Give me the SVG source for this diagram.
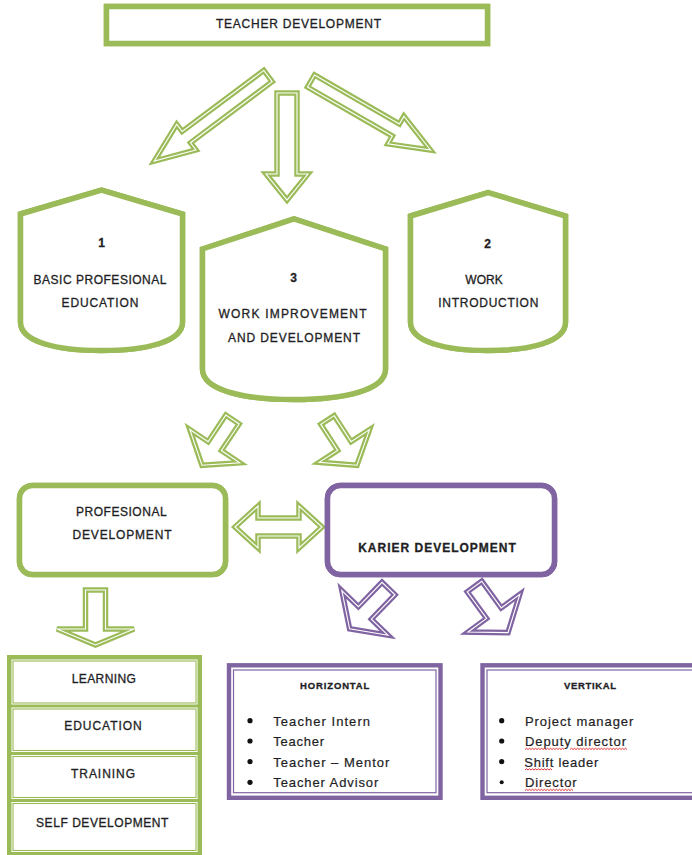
<svg xmlns="http://www.w3.org/2000/svg" width="692" height="855" viewBox="0 0 692 855">
  <style>
    .g2 { fill: #fff; stroke: #9bbb59; stroke-width: 5.5; stroke-linejoin: miter; }
    .p2 { fill: #fff; stroke: #8064a2; stroke-width: 5.5; stroke-linejoin: miter; }
    .seam { fill: none; stroke: #fff; stroke-width: 1.1; }
    .pthin { fill: none; stroke: #8064a2; stroke-width: 1.2; }
    .gthin { fill: none; stroke: #9bbb59; stroke-width: 1.1; }
    .t { font-family: "Liberation Sans", Arial, sans-serif; font-size: 12px; fill: #1e1e24; stroke: #1e1e24; stroke-width: 0.3; text-anchor: middle; }
    .b { font-weight: bold; }
    .hd { font-size: 9.5px; font-weight: bold; }
    .li { font-family: "Liberation Sans", Arial, sans-serif; font-size: 13px; fill: #1e1e24; stroke: #1e1e24; stroke-width: 0.2; }
    .dot { fill: #111; }
    .spell { fill: none; stroke: #e02020; stroke-width: 0.9; }
  </style>

  <!-- top node -->
  <g id="teacher-development">
    <rect class="g2" id="r-top" x="106.5" y="6.5" width="381" height="37"/>
    <use href="#r-top" class="seam"/>
    <text class="t" x="298.5" y="28" textLength="165" lengthAdjust="spacing">TEACHER  DEVELOPMENT</text>
  </g>

  <!-- block arrows -->
  <g id="connectors">
    <g class="g2">
      <polygon id="a-top-left" transform="translate(268 76) rotate(143.2)" points="0,-7 102,-7 102,-16 142,0 102,16 102,7 0,7"/>
      <polygon id="a-top-mid" transform="translate(287 93) rotate(90)" points="0,-10 81,-10 81,-21 107,0 81,21 81,10 0,10"/>
      <polygon id="a-top-right" transform="translate(311 81) rotate(30)" points="0,-7 98,-7 98,-16 138,0 98,16 98,7 0,7"/>
      <polygon id="a-mid-left" transform="translate(232.5 419.5) rotate(123.7)" points="0,-8 32,-8 32,-30 55,0 32,30 32,8 0,8"/>
      <polygon id="a-mid-right" transform="translate(327.5 420) rotate(57)" points="0,-8 31,-8 31,-30 54,0 31,30 31,8 0,8"/>
      <polygon id="a-both" points="235,527 258,506 258,518 299,518 299,506 322,527 299,548 299,536 258,536 258,548"/>
      <polygon id="a-down" points="85.5,590 105.5,590 105.5,629 134,629 95.5,645 57,629 85.5,629"/>
    </g>
    <g class="p2">
      <polygon id="a-k-left" transform="translate(388.5 588.5) rotate(134)" points="0,-9 34,-9 34,-32 56,0 34,32 34,9 0,9"/>
      <polygon id="a-k-right" transform="translate(474.5 586.5) rotate(54)" points="0,-9 33,-9 33,-32 57,0 33,32 33,9 0,9"/>
    </g>
    <use href="#a-top-left" class="seam"/>
    <use href="#a-top-mid" class="seam"/>
    <use href="#a-top-right" class="seam"/>
    <use href="#a-mid-left" class="seam"/>
    <use href="#a-mid-right" class="seam"/>
    <use href="#a-both" class="seam"/>
    <use href="#a-down" class="seam"/>
    <use href="#a-k-left" class="seam"/>
    <use href="#a-k-right" class="seam"/>
  </g>

  <!-- stage 1 -->
  <g id="basic-education">
    <path class="g2" id="s-1" d="M20.5,214 L101.5,190 L182.5,214 L182.5,322 C182.5,342 146,350.5 101.5,350.5 C57,350.5 20.5,342 20.5,322 Z"/>
    <use href="#s-1" class="seam"/>
    <text class="t b" x="101.5" y="247">1</text>
    <text class="t" x="100" y="284" textLength="133" lengthAdjust="spacing">BASIC PROFESIONAL</text>
    <text class="t" x="100" y="306.5" textLength="77" lengthAdjust="spacing">EDUCATION</text>
  </g>

  <!-- stage 3 -->
  <g id="work-improvement">
    <path class="g2" id="s-3" d="M202.5,249 L294,219 L385.5,249 L385.5,369 C385.5,390 345,399.5 294,399.5 C243,399.5 202.5,390 202.5,369 Z"/>
    <use href="#s-3" class="seam"/>
    <text class="t b" x="293.5" y="281.5">3</text>
    <text class="t" x="292.5" y="318" textLength="148" lengthAdjust="spacing">WORK IMPROVEMENT</text>
    <text class="t" x="294" y="341.5" textLength="132" lengthAdjust="spacing">AND DEVELOPMENT</text>
  </g>

  <!-- stage 2 -->
  <g id="work-introduction">
    <path class="g2" id="s-2" d="M410.5,216 L488,192.5 L565.5,216 L565.5,322 C565.5,342 530,350.5 488,350.5 C446,350.5 410.5,342 410.5,322 Z"/>
    <use href="#s-2" class="seam"/>
    <text class="t b" x="487.5" y="247.5">2</text>
    <text class="t" x="484" y="284.3">WORK</text>
    <text class="t" x="488.3" y="306.7" textLength="100" lengthAdjust="spacing">INTRODUCTION</text>
  </g>

  <!-- professional development -->
  <g id="profesional-development">
    <rect class="g2" id="r-prof" x="19.5" y="485.5" width="206" height="89" rx="13"/>
    <use href="#r-prof" class="seam"/>
    <text class="t" x="121.3" y="516" textLength="90.7" lengthAdjust="spacing">PROFESIONAL</text>
    <text class="t" x="122" y="539" textLength="99" lengthAdjust="spacing">DEVELOPMENT</text>
  </g>

  <!-- career development -->
  <g id="karier-development">
    <rect class="p2" id="r-kar" x="327.5" y="485.5" width="227" height="89" rx="13"/>
    <use href="#r-kar" class="seam"/>
    <text class="t b" x="437" y="552" textLength="157.7" lengthAdjust="spacing">KARIER  DEVELOPMENT</text>
  </g>

  <!-- professional development forms -->
  <g id="forms">
    <rect x="7" y="655" width="195" height="205" fill="#9bbb59"/>
    <rect x="11.5" y="659.5" width="186" height="45" fill="#fff"/>
    <rect x="11.5" y="707.5" width="186" height="44.5" fill="#fff"/>
    <rect x="11.5" y="755" width="186" height="44" fill="#fff"/>
    <rect x="11.5" y="802" width="186" height="50" fill="#fff"/>
    <rect class="gthin" x="13" y="661" width="183" height="42"/>
    <rect class="gthin" x="13" y="709" width="183" height="41.5"/>
    <rect class="gthin" x="13" y="756.5" width="183" height="41"/>
    <rect class="gthin" x="13" y="803.5" width="183" height="47"/>
    <text class="t" x="103.8" y="683" textLength="64.3" lengthAdjust="spacing">LEARNING</text>
    <text class="t" x="103" y="730" textLength="77.4" lengthAdjust="spacing">EDUCATION</text>
    <text class="t" x="103" y="778" textLength="64" lengthAdjust="spacing">TRAINING</text>
    <text class="t" x="102.2" y="826.5" textLength="132.3" lengthAdjust="spacing">SELF DEVELOPMENT</text>
  </g>

  <!-- horizontal career path -->
  <g id="horizontal">
    <rect x="229" y="665.3" width="211.5" height="132.5" fill="#fff" stroke="#8064a2" stroke-width="4.4"/>
    <rect class="pthin" x="233.5" y="670" width="202.5" height="122.7"/>
    <text class="t hd" x="334.7" y="689" textLength="69.3" lengthAdjust="spacing">HORIZONTAL</text>
    <circle class="dot" cx="250" cy="720.7" r="2.6"/>
    <circle class="dot" cx="250" cy="741" r="2.6"/>
    <circle class="dot" cx="250" cy="761.7" r="2.6"/>
    <circle class="dot" cx="250" cy="782.3" r="2.6"/>
    <text class="li" x="273.3" y="725.7" textLength="96.7" lengthAdjust="spacing">Teacher Intern</text>
    <text class="li" x="273.3" y="746" textLength="50.7" lengthAdjust="spacing">Teacher</text>
    <text class="li" x="273.3" y="766.7" textLength="116" lengthAdjust="spacing">Teacher – Mentor</text>
    <text class="li" x="273.3" y="787.3" textLength="105" lengthAdjust="spacing">Teacher Advisor</text>
  </g>

  <!-- vertical career path -->
  <g id="vertikal">
    <rect x="482.5" y="665.3" width="230" height="132.5" fill="#fff" stroke="#8064a2" stroke-width="4.4"/>
    <rect class="pthin" x="487" y="670" width="230" height="122.7"/>
    <text class="t hd" x="590" y="689" textLength="52" lengthAdjust="spacing">VERTIKAL</text>
    <circle class="dot" cx="501.7" cy="720.7" r="2.6"/>
    <circle class="dot" cx="501.7" cy="741" r="2.6"/>
    <circle class="dot" cx="501.7" cy="761.7" r="2.6"/>
    <circle class="dot" cx="501.7" cy="782.3" r="2"/>
    <text class="li" x="525" y="725.7" textLength="108.3" lengthAdjust="spacing">Project manager</text>
    <text class="li" x="525" y="746" textLength="101" lengthAdjust="spacing">Deputy director</text>
    <text class="li" x="524.3" y="766.7" textLength="74" lengthAdjust="spacing">Shift leader</text>
    <text class="li" x="525" y="787.3" textLength="51.7" lengthAdjust="spacing">Director</text>
    <path class="spell" d="M525,749.5 l1.5,-1.2 1.5,1.2 1.5,-1.2 1.5,1.2 1.5,-1.2 1.5,1.2 1.5,-1.2 1.5,1.2 1.5,-1.2 1.5,1.2 1.5,-1.2 1.5,1.2 1.5,-1.2 1.5,1.2 1.5,-1.2 1.5,1.2 1.5,-1.2 1.5,1.2 1.5,-1.2 1.5,1.2 1.5,-1.2 1.5,1.2 1.5,-1.2 1.5,1.2 1.5,-1.2 1.5,1.2"/>
    <path class="spell" d="M570,749.5 l1.5,-1.2 1.5,1.2 1.5,-1.2 1.5,1.2 1.5,-1.2 1.5,1.2 1.5,-1.2 1.5,1.2 1.5,-1.2 1.5,1.2 1.5,-1.2 1.5,1.2 1.5,-1.2 1.5,1.2 1.5,-1.2 1.5,1.2 1.5,-1.2 1.5,1.2 1.5,-1.2 1.5,1.2 1.5,-1.2 1.5,1.2 1.5,-1.2 1.5,1.2 1.5,-1.2 1.5,1.2 1.5,-1.2 1.5,1.2 1.5,-1.2 1.5,1.2 1.5,-1.2 1.5,1.2 1.5,-1.2 1.5,1.2 1.5,-1.2 1.5,1.2 1.5,-1.2 1.5,1.2"/>
    <path class="spell" d="M525,770 l1.5,-1.2 1.5,1.2 1.5,-1.2 1.5,1.2 1.5,-1.2 1.5,1.2 1.5,-1.2 1.5,1.2 1.5,-1.2 1.5,1.2 1.5,-1.2 1.5,1.2 1.5,-1.2 1.5,1.2 1.5,-1.2 1.5,1.2 1.5,-1.2 1.5,1.2"/>
    <path class="spell" d="M525,790.5 l1.5,-1.2 1.5,1.2 1.5,-1.2 1.5,1.2 1.5,-1.2 1.5,1.2 1.5,-1.2 1.5,1.2 1.5,-1.2 1.5,1.2 1.5,-1.2 1.5,1.2 1.5,-1.2 1.5,1.2 1.5,-1.2 1.5,1.2 1.5,-1.2 1.5,1.2 1.5,-1.2 1.5,1.2 1.5,-1.2 1.5,1.2 1.5,-1.2 1.5,1.2 1.5,-1.2 1.5,1.2 1.5,-1.2 1.5,1.2 1.5,-1.2 1.5,1.2 1.5,-1.2 1.5,1.2"/>
  </g>
</svg>
